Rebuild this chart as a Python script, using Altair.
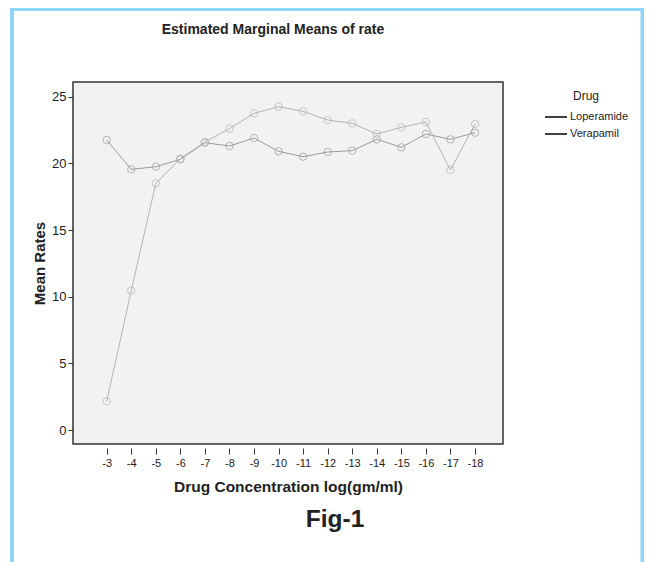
import altair as alt
import pandas as pd

concentrations = [-3, -4, -5, -6, -7, -8, -9, -10, -11, -12, -13, -14, -15, -16, -17, -18]
loperamide = [21.75, 19.55, 19.75, 20.3, 21.55, 21.3, 21.9, 20.9, 20.5, 20.85, 20.95, 21.8, 21.2, 22.2, 21.8, 22.3]
verapamil = [2.15, 10.45, 18.5, 20.35, 21.6, 22.6, 23.75, 24.25, 23.9, 23.25, 23.0, 22.2, 22.7, 23.1, 19.5, 22.95]
drugs = ["Loperamide", "Verapamil"]
y_ticks = [0, 5, 10, 15, 20, 25]
title_text = ["Estimated Marginal Means of rate"]
caption = ["Fig-1"]

rows = []
for name, vals in zip(drugs, [loperamide, verapamil]):
    for c, v in zip(concentrations, vals):
        rows.append({"Drug": name, "conc": c, "rate": v})
df = pd.DataFrame(rows)

FONT = "Liberation Sans"

x_enc = alt.X(
    "conc:Q",
    scale=alt.Scale(domain=[-19.14, -1.627], reverse=True, nice=False, zero=False),
    axis=alt.Axis(
        values=concentrations, labelExpr="'-' + (-datum.value)", title="Drug Concentration log(gm/ml)",
        offset=4, tickSize=6, domain=False, grid=False, labelFontSize=11, labelPadding=3,
        labelColor="#222", tickColor="#333", titleFontSize=15.5, titleFontWeight="bold",
        titleColor="#222", titlePadding=11, labelFont=FONT, titleFont=FONT,
    ),
)
y_enc = alt.Y(
    "rate:Q",
    scale=alt.Scale(domain=[-1.05, 26.1], nice=False, zero=False),
    axis=alt.Axis(
        values=y_ticks, title="Mean Rates", tickSize=5, domain=False, grid=False,
        labelFontSize=13, labelPadding=2, labelColor="#222", tickColor="#333",
        titleFontSize=15, titleFontWeight="bold", titleColor="#222", titlePadding=4,
        labelFont=FONT, titleFont=FONT,
    ),
)
legend = alt.Legend(
    title="Drug", orient="none", legendX=471, legendY=9, symbolType="stroke",
    symbolSize=484, symbolStrokeWidth=1.5, symbolStrokeColor="black", labelFontSize=11,
    labelFont=FONT, titleFont=FONT, titleFontSize=12, titleFontWeight="normal",
    titleAnchor="middle", titleColor="#222", labelColor="#222", labelOffset=2,
    rowPadding=-9, titlePadding=2,
)
legend_color = alt.Color("Drug:N", scale=alt.Scale(domain=drugs, range=["black", "black"]), legend=legend)
gray_stroke = alt.Stroke("Drug:N", scale=alt.Scale(domain=drugs, range=["#9a9a9a", "#b4b4b4"]), legend=None)

base = alt.Chart(df)
legend_layer = base.transform_filter("false").mark_line(strokeWidth=1.5).encode(
    x=x_enc, y=y_enc, color=legend_color
)
lines = base.mark_line(strokeWidth=1).encode(x=x_enc, y=y_enc, stroke=gray_stroke, detail="Drug:N", order="conc:Q")
points = base.mark_point(shape="circle", filled=False, size=55, strokeWidth=1).encode(
    x=x_enc, y=y_enc, stroke=gray_stroke
)

frame = alt.Chart(pd.DataFrame({"f": [0]})).mark_rect(
    fill=None, stroke="#90d6f6", strokeWidth=4
).encode(x=alt.value(-61), x2=alt.value(569.5), y=alt.value(-73), y2=alt.value(620))

title = alt.Chart(pd.DataFrame({"t": title_text})).mark_text(
    font=FONT, fontSize=14, fontWeight="bold", color="#222", baseline="alphabetic", align="center"
).encode(text="t:N", x=alt.value(200), y=alt.value(-48.5))

fig = alt.Chart(pd.DataFrame({"t": caption})).mark_text(
    font=FONT, fontSize=24.5, fontWeight="bold", color="#222", baseline="middle", align="center"
).encode(text="t:N", x=alt.value(262), y=alt.value(438))

chart = alt.layer(frame, legend_layer, lines, points, title, fig).properties(
    width=430, height=362,
    background="white",
    autosize=alt.AutoSizeParams(type="none"),
    padding={"left": 65, "top": 74, "right": 141, "bottom": 118},
).configure_view(fill="#f2f2f2", stroke="#333", strokeWidth=1.5)

chart.save("out.html", embed_options={"renderer": "svg", "actions": False})
